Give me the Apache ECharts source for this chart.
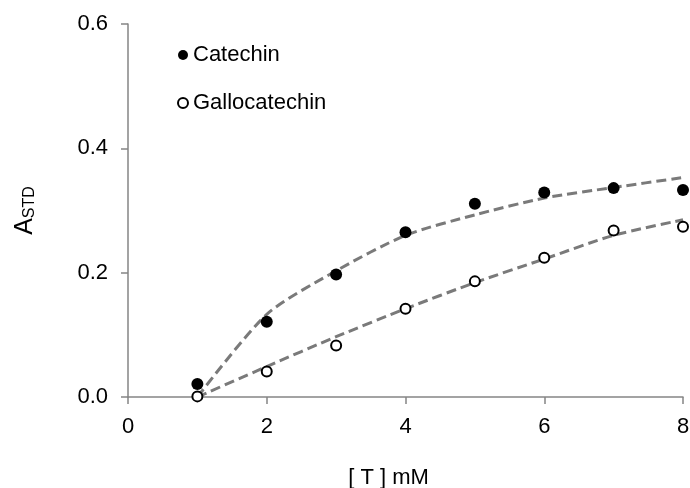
<!DOCTYPE html>
<html>
<head>
<meta charset="utf-8">
<script src="https://cdn.jsdelivr.net/npm/echarts@6/dist/echarts.min.js"></script>
<style>
  html, body { margin: 0; padding: 0; background: #fff; }
  #chart { width: 690px; height: 488px; }
</style>
</head>
<body>
<div id="chart"></div>
<script>
// concentrations [T] (mM)
const conc = [1, 2, 3, 4, 5, 6, 7, 8]
// measured points
const catechin = [0.021, 0.121, 0.197, 0.265, 0.311, 0.329, 0.336, 0.333]
const gallocatechin = [0.001, 0.041, 0.083, 0.142, 0.186, 0.224, 0.268, 0.274]
// fitted curves (dashed)
const catechinFit = [0.0, 0.133, 0.203, 0.260, 0.293, 0.320, 0.337, 0.353]
const gallocatechinFit = [0.0, 0.049, 0.097, 0.142, 0.184, 0.222, 0.260, 0.285]
const xTicks = [0, 2, 4, 6, 8]
const yTicks = [0.0, 0.2, 0.4, 0.6]

const font = 'Liberation Sans, Arial, sans-serif'
const pairs = (ys) => conc.map((x, i) => [x, ys[i]])

const chart = echarts.init(document.getElementById('chart'))

const fitLine = (name, ys) => ({
    name: name,
    type: 'line',
    data: pairs(ys),
    smooth: 0.25,
    showSymbol: false,
    silent: true,
    z: 1,
    lineStyle: { color: '#7a7a7a', width: 3, type: [10, 5] }
})

chart.setOption({
    animation: false,
    textStyle: { fontFamily: font },
    grid: { left: 128, right: 7, top: 24, bottom: 91, containLabel: false, outerBoundsMode: 'none' },
    legend: {
        data: ['Catechin', 'Gallocatechin'],
        orient: 'vertical',
        left: 172,
        top: 39,
        itemWidth: 10,
        itemHeight: 10,
        itemGap: 26,
        textStyle: { fontFamily: font, fontSize: 22, color: '#000', padding: [0, 0, 0, 0] }
    },
    xAxis: {
        type: 'value',
        min: xTicks[0],
        max: xTicks[xTicks.length - 1],
        interval: 2,
        name: '[ T ] mM',
        nameLocation: 'middle',
        nameGap: 70,
        nameTextStyle: { fontFamily: font, fontSize: 22, color: '#000', padding: [0, 34, 0, 0] },
        axisLine: { lineStyle: { color: '#858585', width: 1.5 } },
        axisTick: { show: true, length: 7, lineStyle: { color: '#858585', width: 1.5 } },
        axisLabel: { fontFamily: font, fontSize: 22, color: '#000', margin: 19 },
        splitLine: { show: false }
    },
    yAxis: {
        type: 'value',
        min: yTicks[0],
        max: yTicks[yTicks.length - 1],
        interval: 0.2,
        name: '{a|A}{s|STD}',
        nameLocation: 'middle',
        nameRotate: 90,
        nameGap: 90,
        nameTextStyle: {
            color: '#000',
            rich: {
                a: { fontFamily: font, fontSize: 25, color: '#000' },
                s: { fontFamily: font, fontSize: 16, color: '#000', verticalAlign: 'bottom', padding: [9, 0, 0, 0] }
            }
        },
        axisLine: { show: true, lineStyle: { color: '#858585', width: 1.5 } },
        axisTick: { show: true, length: 7, lineStyle: { color: '#858585', width: 1.5 } },
        axisLabel: {
            fontFamily: font, fontSize: 22, color: '#000', margin: 20,
            padding: [4, 0, 0, 0],
            formatter: (v) => v.toFixed(1)
        },
        splitLine: { show: false }
    },
    series: [
        fitLine('Catechin fit', catechinFit),
        fitLine('Gallocatechin fit', gallocatechinFit),
        {
            name: 'Catechin',
            type: 'scatter',
            data: pairs(catechin),
            symbol: 'circle',
            symbolSize: 12,
            z: 3,
            itemStyle: { color: '#000', borderColor: '#000', borderWidth: 0, opacity: 1 }
        },
        {
            name: 'Gallocatechin',
            type: 'scatter',
            data: pairs(gallocatechin),
            symbol: 'circle',
            symbolSize: 10,
            z: 3,
            itemStyle: { color: '#fff', borderColor: '#000', borderWidth: 2, opacity: 1 }
        }
    ]
})
</script>
</body>
</html>
